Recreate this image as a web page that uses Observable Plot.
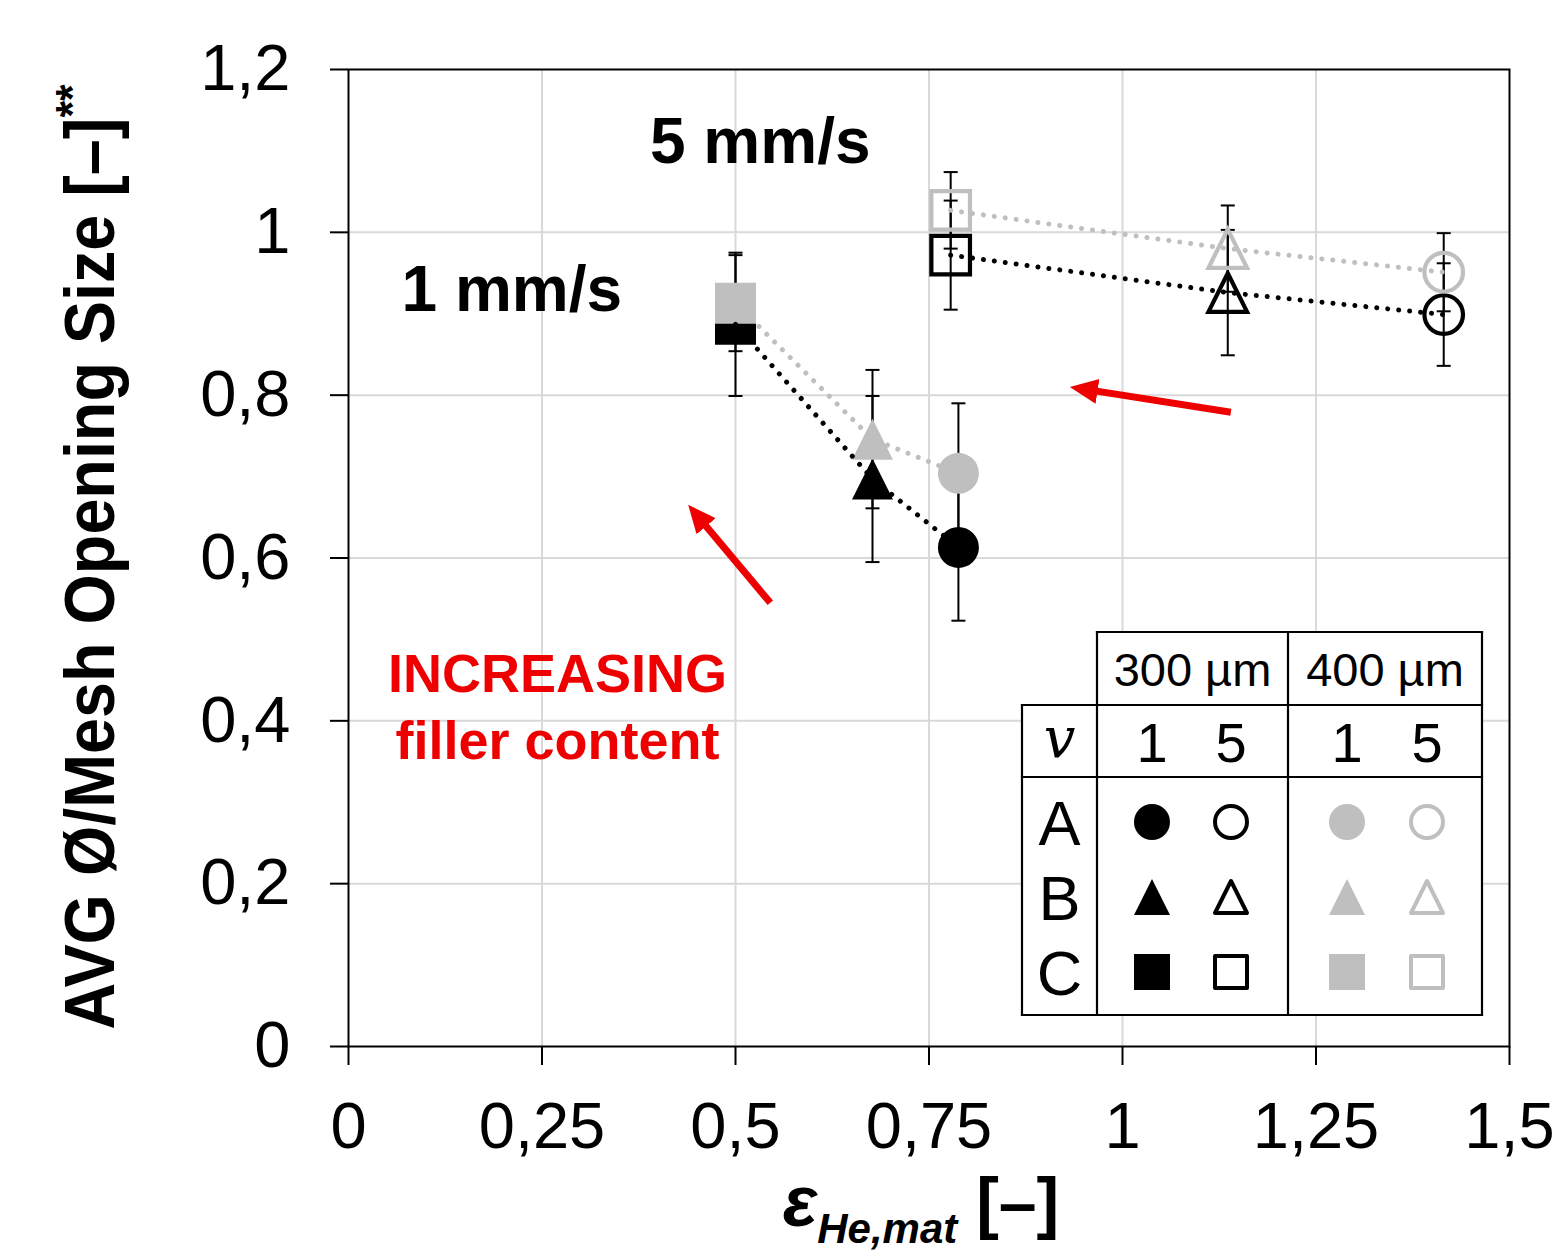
<!DOCTYPE html>
<html><head><meta charset="utf-8">
<script src="https://cdn.jsdelivr.net/npm/d3@7"></script>
<script src="https://cdn.jsdelivr.net/npm/@observablehq/plot@0.6"></script>
<style>body{margin:0;background:#fff;} #chart{width:1552px;height:1253px;}</style>
</head><body><div id="chart"></div>
<script>
// ---- data ----
const specimen = ["C", "B", "A"];
// 1 mm/s
const eps1_300 = [0.500, 0.677, 0.788];
const avg1_300 = [0.887, 0.697, 0.613];
const err1_300 = [0.088, 0.102, 0.090];
const eps1_400 = [0.500, 0.677, 0.788];
const avg1_400 = [0.913, 0.746, 0.704];
const err1_400 = [0.059, 0.085, 0.086];
// 5 mm/s
const eps5_300 = [0.778, 1.136, 1.415];
const avg5_300 = [0.972, 0.926, 0.899];
const err5_300 = [0.067, 0.077, 0.063];
const eps5_400 = [0.778, 1.136, 1.415];
const avg5_400 = [1.027, 0.980, 0.951];
const err5_400 = [0.047, 0.053, 0.048];

const xTicks = [0, 0.25, 0.5, 0.75, 1, 1.25, 1.5];
const yTicks = [0, 0.2, 0.4, 0.6, 0.8, 1, 1.2];

const speedLabels = ["5 mm/s", "1 mm/s"];
const speedLabelX = [0.532, 0.211];
const speedLabelY = [1.110, 0.929];

const noteText = "INCREASING\nfiller content";
const noteX = 0.270, noteY = 0.421;

const arrowX1 = [0.545, 1.140], arrowY1 = [0.545, 0.779];
const arrowX2 = [0.448, 0.946], arrowY2 = [0.655, 0.808];

const legendSizes = ["300 µm", "400 µm"];
const legendSpeeds = ["1", "5"];
const legendSpecimens = ["A", "B", "C"];

// ---- build tables ----
const sizeColor = {"300 µm": "#000000", "400 µm": "#bfbfbf"};
const groups = [
  {size: "300 µm", speed: 1, eps: eps1_300, avg: avg1_300, err: err1_300},
  {size: "400 µm", speed: 1, eps: eps1_400, avg: avg1_400, err: err1_400},
  {size: "300 µm", speed: 5, eps: eps5_300, avg: avg5_300, err: err5_300},
  {size: "400 µm", speed: 5, eps: eps5_400, avg: avg5_400, err: err5_400}
];
const rows = groups.flatMap(g => specimen.map((s, i) => ({
  spec: s, size: g.size, speed: g.speed, eps: g.eps[i], avg: g.avg[i], err: g.err[i],
  lo: g.avg[i] - g.err[i], hi: g.avg[i] + g.err[i]
})));
const arrows = arrowX1.map((d, i) => ({x1: arrowX1[i], y1: arrowY1[i], x2: arrowX2[i], y2: arrowY2[i]}));
const speedNotes = speedLabels.map((t, i) => ({t, x: speedLabelX[i], y: speedLabelY[i]}));

// ---- custom symbols (bounding-box fitted like spreadsheet markers) ----
const sq = {draw(ctx, size) { const r = Math.sqrt(size / Math.PI); ctx.moveTo(-r, -r); ctx.lineTo(r, -r); ctx.lineTo(r, r); ctx.lineTo(-r, r); ctx.closePath(); }};
const tri = {draw(ctx, size) { const r = Math.sqrt(size / Math.PI); ctx.moveTo(0, -r); ctx.lineTo(r, r); ctx.lineTo(-r, r); ctx.closePath(); }};
const circ = {draw(ctx, size) { const r = Math.sqrt(size / Math.PI); ctx.moveTo(r, 0); ctx.arc(0, 0, r, 0, 2 * Math.PI); ctx.closePath(); }};
const cap = {draw(ctx) { ctx.moveTo(-7, 0); ctx.lineTo(7, 0); }};
const shapeOf = {A: circ, B: tri, C: sq};

const fmt = d => String(d).replace(".", ",");
const FONT = "'Liberation Sans', Arial, sans-serif";

function dotMarks(size, speed) {
  const col = sizeColor[size];
  return specimen.map(s => Plot.dot(rows.filter(d => d.size === size && d.speed === speed && d.spec === s), {
    x: "eps", y: "avg", symbol: shapeOf[s],
    r: speed === 1 ? 20.5 : 19.3,
    fill: speed === 1 ? col : "none",
    stroke: speed === 1 ? "none" : col,
    strokeWidth: speed === 1 ? 0 : 4.2
  }));
}
function lineMark(size) {
  return Plot.line(rows.filter(d => d.size === size), {
    x: "eps", y: "avg", z: "speed", stroke: sizeColor[size],
    strokeWidth: 5, strokeDasharray: "0.01 11", strokeLinecap: "round"
  });
}

const plot = Plot.plot({
  width: 1552, height: 1253,
  marginLeft: 348, marginRight: 43, marginTop: 69, marginBottom: 207,
  style: {fontFamily: FONT, background: "white", color: "black"},
  x: {domain: [0, 1.5]},
  y: {domain: [0, 1.2]},
  marks: [
    Plot.gridX(xTicks.filter(d => d > 0 && d < 1.5), {stroke: "#d9d9d9", strokeOpacity: 1, strokeWidth: 2}),
    Plot.gridY(yTicks.filter(d => d > 0 && d < 1.2), {stroke: "#d9d9d9", strokeOpacity: 1, strokeWidth: 2}),
    Plot.axisX(xTicks, {tickSize: 19, tickPadding: 36, fontSize: 65, tickFormat: fmt, label: null, color: "black", strokeWidth: 2}),
    Plot.axisY(yTicks, {tickSize: 18, tickPadding: 40, fontSize: 65, tickFormat: fmt, label: null, color: "black", strokeWidth: 2}),
    // error bars
    Plot.ruleX(rows, {x: "eps", y1: "lo", y2: "hi", stroke: "black", strokeWidth: 2}),
    Plot.dot(rows, {x: "eps", y: "lo", symbol: cap, r: 5, fill: "none", stroke: "black", strokeWidth: 2}),
    Plot.dot(rows, {x: "eps", y: "hi", symbol: cap, r: 5, fill: "none", stroke: "black", strokeWidth: 2}),
    lineMark("400 µm"),
    ...dotMarks("300 µm", 1),
    ...dotMarks("300 µm", 5),
    ...dotMarks("400 µm", 1),
    ...dotMarks("400 µm", 5),
    lineMark("300 µm"),
    Plot.frame({stroke: "black", strokeWidth: 2}),
    // annotations
    Plot.text(speedNotes, {x: "x", y: "y", text: "t", fontSize: 64, fontWeight: "bold", fill: "black", textAnchor: "middle", lineAnchor: "middle"}),
    Plot.text([noteText], {x: () => noteX, y: () => noteY, text: d => d, fontSize: 54, fontWeight: "bold", fill: "#ee0000", textAnchor: "middle", lineAnchor: "middle", lineHeight: 1.24}),
    Plot.link(arrows, {x1: "x1", y1: "y1", x2: "x2", y2: "y2", stroke: "#ee0000", strokeWidth: 7, className: "redarrow"})
  ]
});
document.getElementById("chart").appendChild(plot);

const svg = d3.select(plot);
// arrowheads
const defs = svg.append("defs");
defs.append("marker").attr("id", "redhead").attr("markerUnits", "userSpaceOnUse")
  .attr("viewBox", "0 -14 28 28").attr("markerWidth", 28).attr("markerHeight", 28)
  .attr("refX", 17).attr("refY", 0).attr("orient", "auto")
  .append("path").attr("d", "M0,-12.5L28,0L0,12.5Z").attr("fill", "#ee0000");
svg.selectAll(".redarrow path").attr("marker-end", "url(#redhead)");

// axis titles
const yt = svg.append("text").attr("transform", "translate(114,557) rotate(-90)")
  .attr("text-anchor", "middle").attr("font-family", FONT).attr("font-weight", "bold")
  .attr("font-size", 70).attr("fill", "black")
  .attr("textLength", 945).attr("lengthAdjust", "spacingAndGlyphs");
yt.append("tspan").text("AVG Ø/Mesh Opening Size [–]");
yt.append("tspan").attr("dy", -26).attr("font-size", 46).text("**");

const xt = svg.append("text").attr("x", 921).attr("y", 1226).attr("text-anchor", "middle")
  .attr("font-family", FONT).attr("font-weight", "bold").attr("font-size", 68).attr("fill", "black");
xt.append("tspan").attr("font-style", "italic").attr("font-size", 72).text("ε");
xt.append("tspan").attr("font-style", "italic").attr("font-size", 42).attr("dy", 17).text("He,mat");
xt.append("tspan").attr("dy", -17).text(" [–]");

// legend table
const lg = svg.append("g").attr("font-family", FONT).attr("fill", "black");
const X0 = 1022, X1 = 1097, X2 = 1288, X3 = 1482, Y0 = 632, Y1 = 705, Y2 = 777, Y3 = 1015;
lg.append("rect").attr("x", X1).attr("y", Y0).attr("width", X3 - X1).attr("height", Y1 - Y0).attr("fill", "white");
lg.append("rect").attr("x", X0).attr("y", Y1).attr("width", X3 - X0).attr("height", Y3 - Y1).attr("fill", "white");
const seg = (a, b, c, d) => lg.append("line").attr("x1", a).attr("y1", b).attr("x2", c).attr("y2", d).attr("stroke", "black").attr("stroke-width", 2.2).attr("stroke-linecap", "square");
seg(X1, Y0, X3, Y0); seg(X0, Y1, X3, Y1); seg(X0, Y2, X3, Y2); seg(X0, Y3, X3, Y3);
seg(X0, Y1, X0, Y3); seg(X1, Y0, X1, Y3); seg(X2, Y0, X2, Y3); seg(X3, Y0, X3, Y3);
const sizeCx = [(X1 + X2) / 2, (X2 + X3) / 2];
legendSizes.forEach((t, i) => lg.append("text").attr("x", sizeCx[i]).attr("y", 686).attr("text-anchor", "middle").attr("font-size", 47).text(t));
const colCx = [1152, 1231, 1347, 1427];
const rowCy = [822, 897, 972];
colCx.forEach((cx, j) => lg.append("text").attr("x", cx).attr("y", 762).attr("text-anchor", "middle").attr("font-size", 56).text(legendSpeeds[j % 2]));
lg.append("text").attr("x", (X0 + X1) / 2).attr("y", 757).attr("text-anchor", "middle")
  .attr("font-family", "'DejaVu Serif', 'Liberation Serif', serif").attr("font-style", "italic").attr("font-size", 56).text("v");
legendSpecimens.forEach((t, i) => lg.append("text").attr("x", (X0 + X1) / 2).attr("y", rowCy[i] + 23).attr("text-anchor", "middle").attr("font-size", 63).text(t));
legendSpecimens.forEach((s, i) => {
  colCx.forEach((cx, j) => {
    const col = j < 2 ? sizeColor["300 µm"] : sizeColor["400 µm"];
    const filled = j % 2 === 0;
    const r = filled ? 18 : 16;
    const p = d3.path();
    shapeOf[s].draw(p, r * r * Math.PI);
    lg.append("path").attr("transform", `translate(${cx},${rowCy[i]})`).attr("d", p.toString())
      .attr("fill", filled ? col : "none").attr("stroke", filled ? "none" : col).attr("stroke-width", filled ? 0 : 4)
      .attr("stroke-linejoin", "round");
  });
});
</script>
</body></html>
